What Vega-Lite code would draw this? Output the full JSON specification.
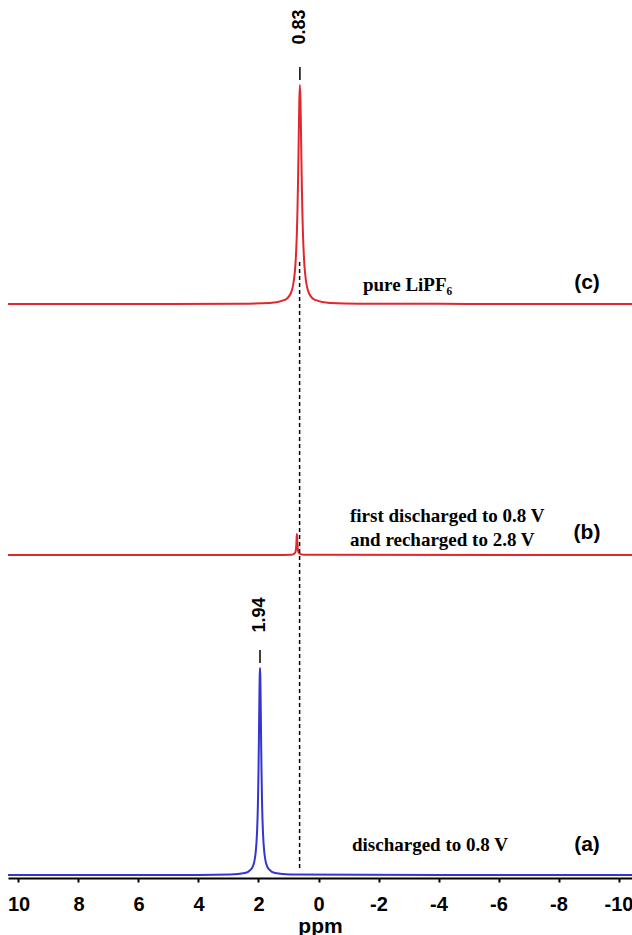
{
  "$schema": "https://vega.github.io/schema/vega-lite/v6.json",
  "width": 624,
  "height": 878,
  "autosize": {"type": "none"},
  "padding": {"left": 8, "right": 0, "top": 0, "bottom": 57},
  "background": "white",
  "config": {"view": {"stroke": null}},
  "datasets": {
    "spectra": [
      {"series": "c", "ppm": 10.35, "intensity": 579},
      {"series": "c", "ppm": 5, "intensity": 579.1},
      {"series": "c", "ppm": 2.62, "intensity": 579.3},
      {"series": "c", "ppm": 1.62, "intensity": 580.1},
      {"series": "c", "ppm": 1.12, "intensity": 583.2},
      {"series": "c", "ppm": 0.92, "intensity": 590},
      {"series": "c", "ppm": 0.82, "intensity": 603},
      {"series": "c", "ppm": 0.77, "intensity": 618},
      {"series": "c", "ppm": 0.72, "intensity": 651},
      {"series": "c", "ppm": 0.70, "intensity": 674},
      {"series": "c", "ppm": 0.68, "intensity": 705},
      {"series": "c", "ppm": 0.66, "intensity": 744},
      {"series": "c", "ppm": 0.64, "intensity": 781},
      {"series": "c", "ppm": 0.62, "intensity": 798},
      {"series": "c", "ppm": 0.60, "intensity": 781},
      {"series": "c", "ppm": 0.58, "intensity": 744},
      {"series": "c", "ppm": 0.56, "intensity": 705},
      {"series": "c", "ppm": 0.54, "intensity": 674},
      {"series": "c", "ppm": 0.52, "intensity": 651},
      {"series": "c", "ppm": 0.47, "intensity": 618},
      {"series": "c", "ppm": 0.42, "intensity": 603},
      {"series": "c", "ppm": 0.32, "intensity": 590},
      {"series": "c", "ppm": 0.12, "intensity": 583.2},
      {"series": "c", "ppm": -0.38, "intensity": 580.1},
      {"series": "c", "ppm": -1.38, "intensity": 579.3},
      {"series": "c", "ppm": -5, "intensity": 579.1},
      {"series": "c", "ppm": -10.45, "intensity": 579},
      {"series": "b", "ppm": 10.35, "intensity": 328},
      {"series": "b", "ppm": 1.5, "intensity": 328},
      {"series": "b", "ppm": 0.9, "intensity": 328.3},
      {"series": "b", "ppm": 0.8, "intensity": 329.5},
      {"series": "b", "ppm": 0.76, "intensity": 332},
      {"series": "b", "ppm": 0.74, "intensity": 338},
      {"series": "b", "ppm": 0.73, "intensity": 344},
      {"series": "b", "ppm": 0.72, "intensity": 349},
      {"series": "b", "ppm": 0.71, "intensity": 344},
      {"series": "b", "ppm": 0.70, "intensity": 338},
      {"series": "b", "ppm": 0.68, "intensity": 332},
      {"series": "b", "ppm": 0.64, "intensity": 329.5},
      {"series": "b", "ppm": 0.5, "intensity": 328.3},
      {"series": "b", "ppm": -10.45, "intensity": 328},
      {"series": "a", "ppm": 10.35, "intensity": 8},
      {"series": "a", "ppm": 4, "intensity": 8.1},
      {"series": "a", "ppm": 2.95, "intensity": 8.5},
      {"series": "a", "ppm": 2.45, "intensity": 10},
      {"series": "a", "ppm": 2.25, "intensity": 13.6},
      {"series": "a", "ppm": 2.15, "intensity": 20},
      {"series": "a", "ppm": 2.10, "intensity": 29},
      {"series": "a", "ppm": 2.05, "intensity": 50},
      {"series": "a", "ppm": 2.02, "intensity": 78},
      {"series": "a", "ppm": 2.00, "intensity": 112},
      {"series": "a", "ppm": 1.99, "intensity": 135},
      {"series": "a", "ppm": 1.98, "intensity": 161},
      {"series": "a", "ppm": 1.97, "intensity": 187},
      {"series": "a", "ppm": 1.96, "intensity": 208},
      {"series": "a", "ppm": 1.95, "intensity": 215},
      {"series": "a", "ppm": 1.94, "intensity": 208},
      {"series": "a", "ppm": 1.93, "intensity": 187},
      {"series": "a", "ppm": 1.92, "intensity": 161},
      {"series": "a", "ppm": 1.91, "intensity": 135},
      {"series": "a", "ppm": 1.90, "intensity": 112},
      {"series": "a", "ppm": 1.88, "intensity": 78},
      {"series": "a", "ppm": 1.85, "intensity": 50},
      {"series": "a", "ppm": 1.80, "intensity": 29},
      {"series": "a", "ppm": 1.75, "intensity": 20},
      {"series": "a", "ppm": 1.65, "intensity": 13.6},
      {"series": "a", "ppm": 1.45, "intensity": 10},
      {"series": "a", "ppm": 0.95, "intensity": 8.5},
      {"series": "a", "ppm": -4, "intensity": 8.1},
      {"series": "a", "ppm": -10.45, "intensity": 8}
    ],
    "markers": [
      {"ppm": 0.62, "y1": 803, "y2": 816, "label": "0.83", "ly": 856},
      {"ppm": 1.95, "y1": 220, "y2": 233, "label": "1.94", "ly": 268}
    ],
    "refline": [{"ppm": 0.63, "y1": 15, "y2": 621}],
    "notes": [
      {"text": "pure LiPF₆", "ppm": -1.483, "y": 592},
      {"text": "first discharged to 0.8 V", "ppm": -1.05, "y": 361},
      {"text": "and recharged to 2.8 V", "ppm": -1.05, "y": 337},
      {"text": "discharged to 0.8 V", "ppm": -1.117, "y": 32}
    ],
    "tags": [
      {"text": "(c)", "ppm": -8.95, "y": 600},
      {"text": "(b)", "ppm": -8.95, "y": 350},
      {"text": "(a)", "ppm": -8.95, "y": 38}
    ]
  },
  "layer": [
    {
      "data": {"name": "spectra"},
      "mark": {"type": "line", "strokeWidth": 2, "interpolate": "monotone"},
      "encoding": {
        "x": {
          "field": "ppm", "type": "quantitative",
          "scale": {"domain": [-10.45, 10.35], "reverse": true, "nice": false, "zero": false},
          "axis": {
            "values": [-10, -9, -8, -7, -6, -5, -4, -3, -2, -1, 0, 1, 2, 3, 4, 5, 6, 7, 8, 9, 10],
            "labelExpr": "datum.value % 2 == 0 ? toString(datum.value) : ''",
            "grid": false,
            "domainColor": "black", "domainWidth": 2,
            "tickColor": "black", "tickWidth": 2, "tickSize": 4,
            "labelFont": "Liberation Sans", "labelFontWeight": "bold", "labelFontSize": 20,
            "labelColor": "black", "labelPadding": 12, "labelFlush": false, "labelOverlap": false,
            "title": "ppm", "titleFont": "Liberation Sans", "titleFontWeight": "bold",
            "titleFontSize": 21, "titleColor": "black", "titlePadding": 1
          }
        },
        "y": {
          "field": "intensity", "type": "quantitative",
          "scale": {"domain": [5, 883], "nice": false, "zero": false},
          "axis": null
        },
        "color": {
          "field": "series", "type": "nominal",
          "scale": {"domain": ["a", "b", "c"], "range": ["#3434d0", "#e3262c", "#e3262c"]},
          "legend": null
        }
      }
    },
    {
      "data": {"name": "refline"},
      "mark": {"type": "rule", "strokeDash": [4, 3], "strokeWidth": 1.5, "color": "black"},
      "encoding": {
        "x": {"field": "ppm", "type": "quantitative"},
        "y": {"field": "y1", "type": "quantitative"},
        "y2": {"field": "y2"}
      }
    },
    {
      "data": {"name": "markers"},
      "mark": {"type": "rule", "strokeWidth": 1.5, "color": "black"},
      "encoding": {
        "x": {"field": "ppm", "type": "quantitative"},
        "y": {"field": "y1", "type": "quantitative"},
        "y2": {"field": "y2"}
      }
    },
    {
      "data": {"name": "markers"},
      "mark": {"type": "text", "angle": 270, "font": "Liberation Sans", "fontWeight": "bold", "fontSize": 18, "color": "black", "align": "center", "baseline": "middle"},
      "encoding": {
        "x": {"field": "ppm", "type": "quantitative"},
        "y": {"field": "ly", "type": "quantitative"},
        "text": {"field": "label"}
      }
    },
    {
      "data": {"name": "notes"},
      "mark": {"type": "text", "font": "Liberation Serif", "fontWeight": "bold", "fontSize": 19, "color": "black", "align": "left", "baseline": "alphabetic"},
      "encoding": {
        "x": {"field": "ppm", "type": "quantitative"},
        "y": {"field": "y", "type": "quantitative"},
        "text": {"field": "text"}
      }
    },
    {
      "data": {"name": "tags"},
      "mark": {"type": "text", "font": "Liberation Sans", "fontWeight": "bold", "fontSize": 21, "color": "black", "align": "center", "baseline": "middle"},
      "encoding": {
        "x": {"field": "ppm", "type": "quantitative"},
        "y": {"field": "y", "type": "quantitative"},
        "text": {"field": "text"}
      }
    }
  ]
}
